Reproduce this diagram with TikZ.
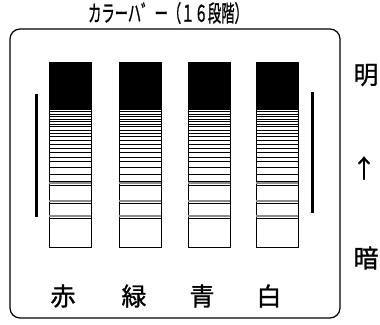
\documentclass[tikz,border=0pt]{standalone}
\usepackage{fontspec}
\newfontfamily\jp[FakeBold=1.2]{Noto Sans CJK JP}
\begin{document}
\begin{tikzpicture}[x=1pt,y=-1pt,
  frame/.style={draw=black,line width=1.2pt,rounded corners=10pt},
  barbox/.style={draw=black,line width=0.6pt},
  blackpart/.style={fill=black,draw=black,line width=0.6pt},
  stripe/.style={draw=black,line width=0.9pt},
  greystripe/.style={draw=black!45,line width=1.8pt},
  sidebar/.style={draw=black,line width=3pt},
  lab/.style={font=\jp\fontsize{25}{25}\selectfont,inner sep=0pt,anchor=center},
  ttl/.style={font=\jp\fontsize{23}{23}\selectfont,inner sep=0pt,anchor=center}]
\useasboundingbox (0,0) rectangle (380,324);
% title
\node[ttl] (title) at (168,13) {\scalebox{0.58}[1]{カラーハ゛ー（１６段階）}};
% frame
\draw[frame] (10,29) rectangle (340,318);
% bars
\foreach \bx in {49,119,188,256}{
  \draw[barbox] (\bx,62) rectangle ++(42,185);
  \fill[blackpart] (\bx,62) rectangle ++(42,47);
  \foreach \yy in {111.5,114,116.5,119,121.5,124,126.5,130,133,136.5,140,144,148,152,157,161,167,174,181,185}{
    \draw[stripe] (\bx,\yy) -- ++(42,0);
  }
  \foreach \yy in {183,201,216}{
    \draw[greystripe] (\bx,\yy) -- ++(42,0);
  }
  \foreach \yy in {203,218}{
    \draw[stripe] (\bx,\yy) -- ++(42,0);
  }
}
% side bars
\draw[sidebar] (36,94) -- (36,217);
\draw[sidebar] (312,92) -- (312,213);
% labels
\node[lab] (aka) at (63,296) {赤};
\node[lab] (midori) at (134,296) {緑};
\node[lab] (ao) at (202,296) {青};
\node[lab] (shiro) at (269,296) {白};
\node[lab] (mei) at (366,75) {明};
\node[lab] (arrow) at (364,168) {↑};
\node[lab] (an) at (366,258) {暗};
\end{tikzpicture}
\end{document}
